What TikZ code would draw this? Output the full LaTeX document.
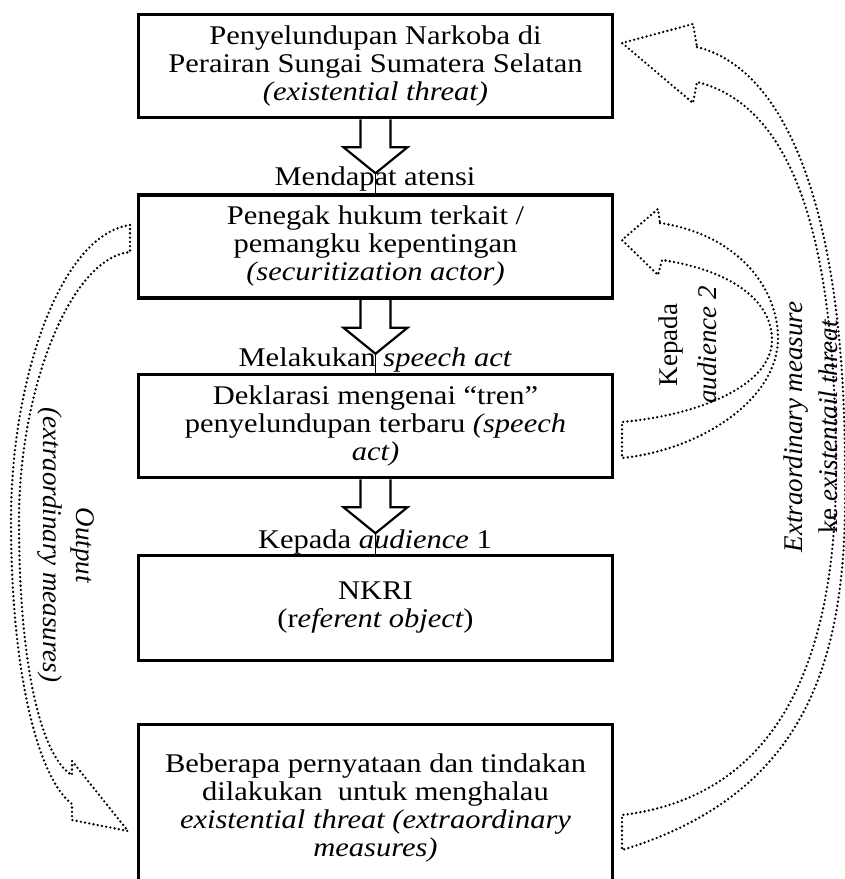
\documentclass[tikz,border=0pt]{standalone}
\usepackage{fontspec}
\setmainfont{Liberation Serif}[FakeStretch=1.13]
\newfontfamily\rotfnt{Liberation Serif}

\begin{document}
\begin{tikzpicture}[x=1pt, y=-1pt,
    box/.style={draw, line width=3.5pt, minimum width=474pt, minimum height=103pt,
      align=center, inner sep=0pt, font=\fontsize{27}{28}\selectfont},
    blockarrow/.style={draw, line width=2.2pt, line join=miter},
    dotarrow/.style={draw, line width=2.6pt, dash pattern=on 0pt off 4.3pt,
      line cap=round, line join=round},
    steplabel/.style={anchor=base, inner sep=0pt, font=\fontsize{27}{28}\selectfont},
    sidelabel/.style={align=center, inner sep=0pt}]
    \useasboundingbox (0,0) rectangle (845,879);
    \clip (0,0) rectangle (845,879);

    \node[box] (threat) at (375.5,66) {Penyelundupan Narkoba di\\Perairan Sungai Sumatera Selatan\\{\itshape (existential threat)}};
    \node[box] (actor) at (375.5,246.5) {Penegak hukum terkait /\\pemangku kepentingan\\{\itshape (securitization actor)}};
    \node[box] (speech) at (375.5,426) {Deklarasi mengenai “tren”\\penyelundupan terbaru {\itshape (speech}\\{\itshape act)}};
    \node[box, minimum height=105pt] (nkri) at (375.5,608) {NKRI\\(r{\itshape eferent object})};
    \node[box, minimum height=167pt] (measures) at (375.5,808) {Beberapa pernyataan dan tindakan\\dilakukan\ \ untuk menghalau\\{\itshape existential threat (extraordinary}\\{\itshape measures)}};

    % hollow arrows down the middle
    \draw[blockarrow, shift={(threat.south)}] (-15,0) -- (-15,28) -- (-32,28) -- (0,54) coordinate (tip1) -- (32,28) -- (15,28) -- (15,0);
    \draw[blockarrow, shift={(actor.south)}] (-15,0) -- (-15,28) -- (-32,28) -- (0,54) coordinate (tip2) -- (32,28) -- (15,28) -- (15,0);
    \draw[blockarrow, shift={(speech.south)}] (-15,0) -- (-15,28) -- (-32,28) -- (0,54) coordinate (tip3) -- (32,28) -- (15,28) -- (15,0);
    \draw[line width=1.5pt] (tip1) -- (actor.north);
    \draw[line width=1.5pt] (tip2) -- (speech.north);
    \draw[line width=1.5pt] (tip3) -- (nkri.north);

    \node[steplabel] (atensi) at (375,185) {Mendapat atensi};
    \node[steplabel] (speechact) at (375,366) {Melakukan {\itshape speech act}};
    \node[steplabel] (aud1) at (375,548) {Kepada {\itshape audience} 1};

    % dotted curved arrows
    \draw[dotarrow] (130,225) .. controls (60,235) and (11,380) .. (11,520)
      .. controls (11,680) and (40,780) .. (72,804)
      -- (72,820) -- (128,831) -- (72,761) -- (72,775)
      .. controls (45,760) and (19,680) .. (19,520)
      .. controls (19,390) and (70,258) .. (130,252) -- cycle;
    \draw[dotarrow] (697,47) .. controls (790,70) and (845,220) .. (845,470)
      .. controls (848,640) and (820,790) .. (622,850)
      -- (622,815)
      .. controls (790,795) and (836,640) .. (836,470)
      .. controls (836,230) and (790,105) .. (697,82)
      -- (693,103) -- (622,43) -- (693,24) -- cycle;
    \draw[dotarrow] (660,223) .. controls (740,235) and (778,290) .. (778,338)
      .. controls (778,400) and (700,450) .. (622,458)
      -- (622,422)
      .. controls (700,415) and (772,385) .. (772,340)
      .. controls (772,300) and (730,270) .. (662,260)
      -- (658,275) -- (622,240) -- (658,209) -- cycle;

    \node[sidelabel, rotate=-90, font=\fontsize{27}{33}\rotfnt] (outlabel) at (66,545) {{\itshape Output}\\{\itshape (extraordinary measures)}};
    \node[sidelabel, rotate=90, font=\fontsize{27}{39}\rotfnt] (aud2) at (688,345) {Kepada\\{\itshape audience 2}};
    \node[sidelabel, rotate=90, font=\fontsize{27}{35}\rotfnt] (extlabel) at (811,427) {{\itshape Extraordinary measure}\\ke {\itshape existentail threat}};
\end{tikzpicture}
\end{document}
